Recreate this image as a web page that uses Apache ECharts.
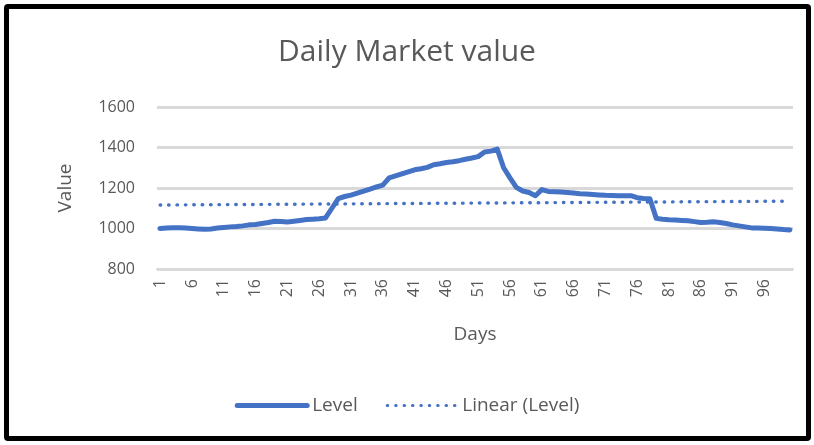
<!DOCTYPE html>
<html lang="en">
<head>
    <meta charset="UTF-8">
    <title>Daily Market value</title>
    <script src="https://cdn.jsdelivr.net/npm/echarts@6/dist/echarts.min.js"></script>
    <style>
        body { margin: 0; background: #fff; }
        #wrap { position: relative; width: 814px; height: 445px; }
        #main { width: 814px; height: 445px; }
        #frame {
            position: absolute; left: 4px; top: 4px; right: 3px; bottom: 4px;
            border: 5px solid #000; border-radius: 4px; pointer-events: none;
        }
    </style>
</head>
<body>
    <div id="wrap">
        <div id="main"></div>
        <div id="frame"></div>
    </div>
    <script>
    // days 1..100
    var days = [];
    for (var i = 1; i <= 100; i++) days.push(String(i));

    // market value per day
    var level = [
        1000, 1002, 1004, 1004, 1002, 1000, 998, 996, 998, 1002,
        1005, 1008, 1010, 1013, 1018, 1020, 1025, 1030, 1036, 1034,
        1032, 1036, 1040, 1044, 1046, 1048, 1052, 1100, 1148, 1158,
        1165, 1175, 1185, 1195, 1205, 1214, 1250, 1260, 1270, 1280,
        1290, 1295, 1302, 1315, 1320, 1326, 1330, 1335, 1342, 1348,
        1355, 1378, 1382, 1392, 1300, 1250, 1203, 1185, 1178, 1162,
        1192, 1183, 1182, 1180, 1178, 1175, 1172, 1170, 1168, 1166,
        1164, 1163, 1162, 1162, 1162, 1152, 1148, 1147, 1050, 1046,
        1043, 1042, 1040, 1038, 1034, 1030, 1031, 1033, 1030, 1025,
        1018, 1013, 1008, 1003, 1002, 1001, 1000, 998, 995, 993
    ];

    // trend line end values (day 1, day 100)
    var trendEnds = [1116, 1135];

    var chart = echarts.init(document.getElementById('main'));
    var grey = '#595959';
    var blue = '#4472c4';
    var font = 'Open Sans';
    var dots = [0.5, 7.9];

    chart.setOption({
        animation: false,
        title: {
            text: 'Daily Market value',
            left: 'center',
            top: 32,
            textStyle: { fontFamily: font, fontSize: 30, fontWeight: 'normal', color: grey }
        },
        legend: {
            bottom: 25,
            left: 'center',
            itemWidth: 70,
            itemHeight: 12,
            itemGap: 28,
            itemStyle: { opacity: 0 },
            textStyle: { fontFamily: font, fontSize: 19, color: grey },
            data: [
                { name: 'Level', lineStyle: { width: 5, cap: 'round' } },
                { name: 'Linear (Level)', lineStyle: { width: 3, type: dots, cap: 'round' } }
            ]
        },
        grid: { left: 157, right: 21, top: 107, bottom: 176 },
        xAxis: {
            type: 'category',
            data: days,
            name: 'Days',
            nameLocation: 'middle',
            nameGap: 56,
            nameTextStyle: { fontFamily: font, fontSize: 19, color: grey },
            axisLine: { lineStyle: { color: '#d9d9d9', width: 2 } },
            axisTick: { show: false },
            axisLabel: {
                interval: 4, rotate: 90, margin: 10,
                fontFamily: font, fontSize: 16, color: grey
            }
        },
        yAxis: {
            type: 'value',
            min: 800, max: 1600, interval: 200,
            name: 'Value',
            nameLocation: 'middle',
            nameGap: 82,
            nameTextStyle: { fontFamily: font, fontSize: 19, color: grey },
            axisLabel: {
                margin: 22, fontFamily: font, fontSize: 16, color: grey,
                formatter: function (v) { return String(v); }
            },
            splitLine: { lineStyle: { color: '#d9d9d9', width: 3 } }
        },
        series: [
            {
                name: 'Level',
                type: 'line',
                data: level,
                symbol: 'none',
                lineStyle: { color: blue, width: 5, cap: 'round', join: 'round' },
                itemStyle: { color: blue }
            },
            {
                name: 'Linear (Level)',
                type: 'line',
                data: [[0, trendEnds[0]], [99, trendEnds[1]]],
                symbol: 'none',
                lineStyle: { color: blue, width: 3.4, type: dots, cap: 'round' },
                itemStyle: { color: blue }
            }
        ]
    });
    </script>
</body>
</html>
